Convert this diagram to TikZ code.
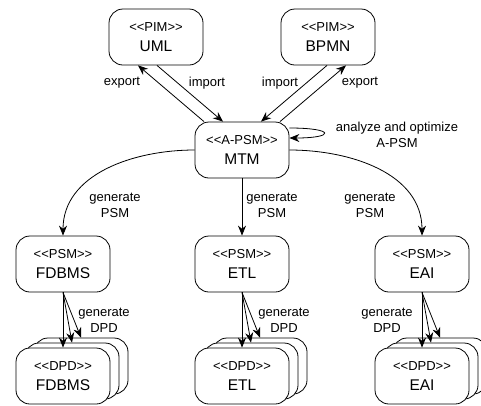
\documentclass[tikz,border=0pt]{standalone}
\usepackage{fontspec}
\setmainfont{Liberation Sans}[Ligatures=TeXOff]
\usetikzlibrary{arrows.meta}

\tikzset{
  model/.style={draw, fill=white, rounded corners=14pt, minimum width=94pt,
    minimum height=56pt, inner sep=0pt, align=center,
    font=\fontsize{15.5}{20}\selectfont},
  lbl/.style={align=center, font=\fontsize{13}{16}\selectfont},
  flow/.style={-{Stealth[length=10pt,width=8pt]}}
}
\newcommand{\stereo}[1]{{\fontsize{13}{20}\selectfont <<#1>>}\\}

\begin{document}
\begin{tikzpicture}[x=1pt,y=-1pt,line width=0.8pt]
\useasboundingbox (0,0) rectangle (481,405);
%The platform independent models sit on top,
% the MTM in the middle and the PSM / DPD rows below
\node[model] (uml) at (156,37) {\stereo{PIM}UML};
\node[model] (bpmn) at (328,37) {\stereo{PIM}BPMN};
\node[model] (mtm) at (242,150) {\stereo{A-PSM}MTM};
\node[model] (fdbms) at (63,264) {\stereo{PSM}FDBMS};
\node[model] (etl) at (242,264) {\stereo{PSM}ETL};
\node[model] (eai) at (422,264) {\stereo{PSM}EAI};

% each DPD is a stack of three boxes, back ones first
\node[model] (dpdFdbmsC) at (81,366) {};
\node[model] (dpdFdbmsB) at (72,371) {};
\node[model] (dpdFdbms) at (63,376) {\stereo{DPD}FDBMS};
\node[model] (dpdEtlC) at (260,366) {};
\node[model] (dpdEtlB) at (251,371) {};
\node[model] (dpdEtl) at (242,376) {\stereo{DPD}ETL};
\node[model] (dpdEaiC) at (440,366) {};
\node[model] (dpdEaiB) at (431,371) {};
\node[model] (dpdEai) at (422,376) {\stereo{DPD}EAI};

% import / export between the PIMs and the MTM
\draw[flow] ([xshift=-38pt]mtm.north) -- ([xshift=-18pt]uml.south);
\draw[flow] ([xshift=1pt]uml.south) -- ([xshift=-19pt]mtm.north);
\draw[flow] ([xshift=-1pt]bpmn.south) -- ([xshift=19pt]mtm.north);
\draw[flow] ([xshift=38pt]mtm.north) -- ([xshift=18pt]bpmn.south);
\node[lbl] (expUml) at (122,83) {export};
\node[lbl] (impUml) at (207,83) {import};
\node[lbl] (impBpmn) at (280,83) {import};
\node[lbl] (expBpmn) at (360,83) {export};

% self loop on the MTM
\draw[flow] ([yshift=22pt]mtm.east) .. controls +(46,0) and +(46,0) .. ([yshift=12pt]mtm.east);
\node[lbl] (optLbl) at (397,135) {analyze and optimize\\A-PSM};

% generation of the PSMs
\draw[flow] (mtm.west) to[out=180,in=90] (fdbms.north);
\draw[flow] (mtm.south) -- (etl.north);
\draw[flow] (mtm.east) to[out=0,in=90] (eai.north);
\node[lbl] (genFdbms) at (115,205) {generate\\PSM};
\node[lbl] (genEtl) at (272,205) {generate\\PSM};
\node[lbl] (genEai) at (370,205) {generate\\PSM};

% generation of the DPDs
\draw[flow] (fdbms.south) -- (dpdFdbms.north);
\draw[flow] (fdbms.south) -- (dpdFdbmsB.north);
\draw[flow] (fdbms.south) -- (dpdFdbmsC.north);
\draw[flow] (etl.south) -- (dpdEtl.north);
\draw[flow] (etl.south) -- (dpdEtlB.north);
\draw[flow] (etl.south) -- (dpdEtlC.north);
\draw[flow] (eai.south) -- (dpdEai.north);
\draw[flow] (eai.south) -- (dpdEaiB.north);
\draw[flow] (eai.south) -- (dpdEaiC.north);
\node[lbl] (dpdLblFdbms) at (104,320) {generate\\DPD};
\node[lbl] (dpdLblEtl) at (284,320) {generate\\DPD};
\node[lbl] (dpdLblEai) at (387,320) {generate\\DPD};
\end{tikzpicture}
\end{document}
